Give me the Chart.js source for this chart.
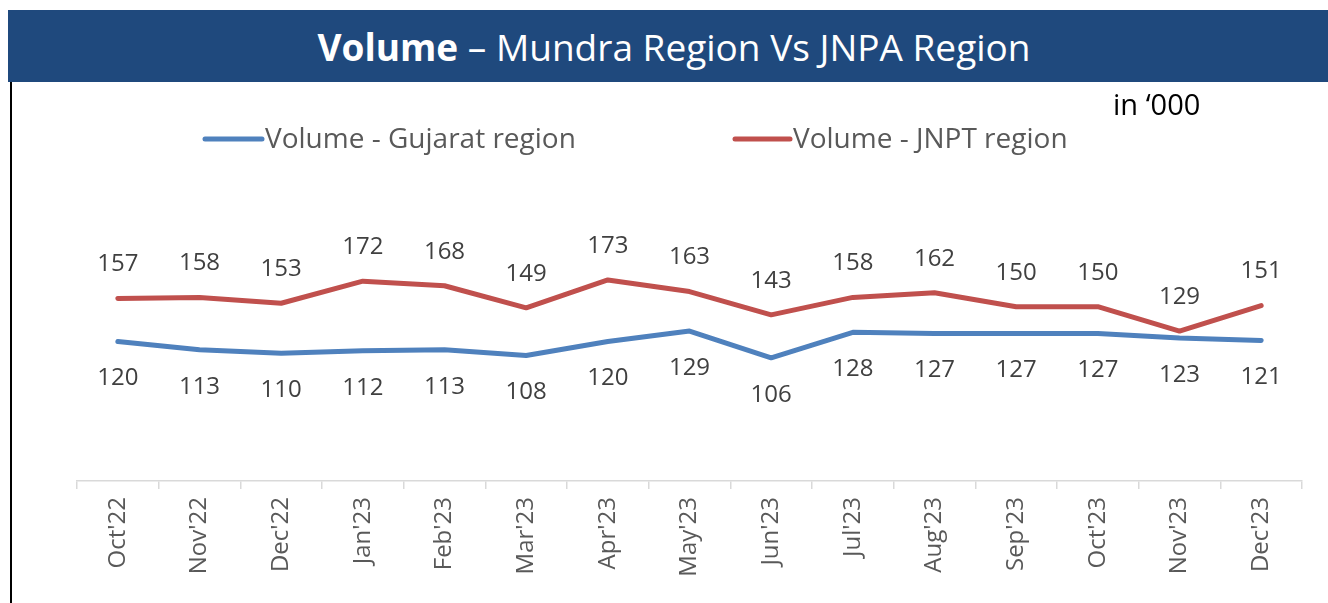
<!DOCTYPE html>
<html>
<head>
<meta charset="utf-8">
<script src="https://cdn.jsdelivr.net/npm/chart.js@4"></script>
<style>
  html, body { margin:0; padding:0; background:#fff; width:1328px; height:603px; overflow:hidden; }
  #title { position:absolute; left:8px; top:10px; width:1308px; padding-left:12px; height:72px; background:#1F497D;
           color:#fff; font-family:"Open Sans", sans-serif; font-size:37px; line-height:74px; text-align:center; }
  #title b { font-weight:700; }
  #border { position:absolute; left:10px; top:82px; width:2px; height:521px; background:#000; }
  #c { position:absolute; left:0; top:0; }
</style>
</head>
<body>
<div id="title"><b>Volume</b> – Mundra Region Vs JNPA Region</div>
<div id="border"></div>
<canvas id="c" width="1328" height="603"></canvas>
<script>
const categories = ["Oct'22","Nov'22","Dec'22","Jan'23","Feb'23","Mar'23","Apr'23","May'23","Jun'23","Jul'23","Aug'23","Sep'23","Oct'23","Nov'23","Dec'23"];
const gujaratValues = [120,113,110,112,113,108,120,129,106,128,127,127,127,123,121];
const jnptValues = [157,158,153,172,168,149,173,163,143,158,162,150,150,129,151];
const seriesNames = ["Volume - Gujarat region", "Volume - JNPT region"];
const unitNote = "in \u2018000";

const BLUE = '#4F81BD', RED = '#C0504D';

const labelPlugin = {
  id: 'valueLabels',
  afterDatasetsDraw(chart) {
    const ctx = chart.ctx;
    ctx.save();
    ctx.font = '24px "Open Sans"';
    ctx.fillStyle = '#404040';
    ctx.textAlign = 'center';
    ctx.textBaseline = 'middle';
    chart.data.datasets.forEach((ds, i) => {
      const meta = chart.getDatasetMeta(i);
      const off = ds.labelPos === 'above' ? -34 : 37;
      meta.data.forEach((pt, j) => {
        ctx.fillText(String(ds.data[j]), pt.x, pt.y + off);
      });
    });
    ctx.restore();
  }
};

const legendPlugin = {
  id: 'customLegend',
  afterDraw(chart) {
    const ctx = chart.ctx;
    ctx.save();
    const items = [
      {x0:205, x1:262, tx:265, color:BLUE, text:seriesNames[0]},
      {x0:735, x1:790, tx:793, color:RED, text:seriesNames[1]}
    ];
    const y = 139;
    items.forEach(it => {
      ctx.strokeStyle = it.color;
      ctx.lineWidth = 5;
      ctx.lineCap = 'round';
      ctx.beginPath(); ctx.moveTo(it.x0, y); ctx.lineTo(it.x1, y); ctx.stroke();
      ctx.font = '28px "Open Sans"';
      ctx.fillStyle = '#595959';
      ctx.textAlign = 'left';
      ctx.textBaseline = 'middle';
      ctx.fillText(it.text, it.tx, y + 1);
    });
    ctx.font = '29px "Open Sans"';
    ctx.fillStyle = '#000';
    ctx.textAlign = 'left';
    ctx.textBaseline = 'middle';
    ctx.fillText(unitNote, 1113, 107);
    ctx.restore();
  }
};

new Chart(document.getElementById('c'), {
  type: 'line',
  data: {
    labels: categories,
    datasets: [
      { label: seriesNames[0], data: gujaratValues, borderColor: BLUE, backgroundColor: BLUE, borderWidth: 5,
        pointRadius: 0, tension: 0, borderCapStyle: 'round', borderJoinStyle: 'round', labelPos: 'below' },
      { label: seriesNames[1], data: jnptValues, borderColor: RED, backgroundColor: RED, borderWidth: 5,
        pointRadius: 0, tension: 0, borderCapStyle: 'round', borderJoinStyle: 'round', labelPos: 'above' }
    ]
  },
  options: {
    responsive: false,
    devicePixelRatio: 1,
    animation: false,
    layout: { padding: { left: 77, right: 26, top: 190.5, bottom: 0 } },
    plugins: { legend: { display: false }, tooltip: { enabled: false }, title: { display: false } },
    scales: {
      x: {
        offset: true,
        afterFit(scale) { scale.height = 122; },
        grid: { offset: true, drawOnChartArea: false, drawTicks: true, tickLength: 8, color: '#D9D9D9', lineWidth: 1.5 },
        border: { display: true, color: '#D9D9D9', width: 1.5 },
        ticks: { autoSkip: false, minRotation: 90, maxRotation: 90, padding: 8,
                 font: { family: 'Open Sans', size: 24 }, color: '#595959' }
      },
      y: { display: false, min: 0, max: 250 }
    }
  },
  plugins: [labelPlugin, legendPlugin]
});
</script>
</body>
</html>
